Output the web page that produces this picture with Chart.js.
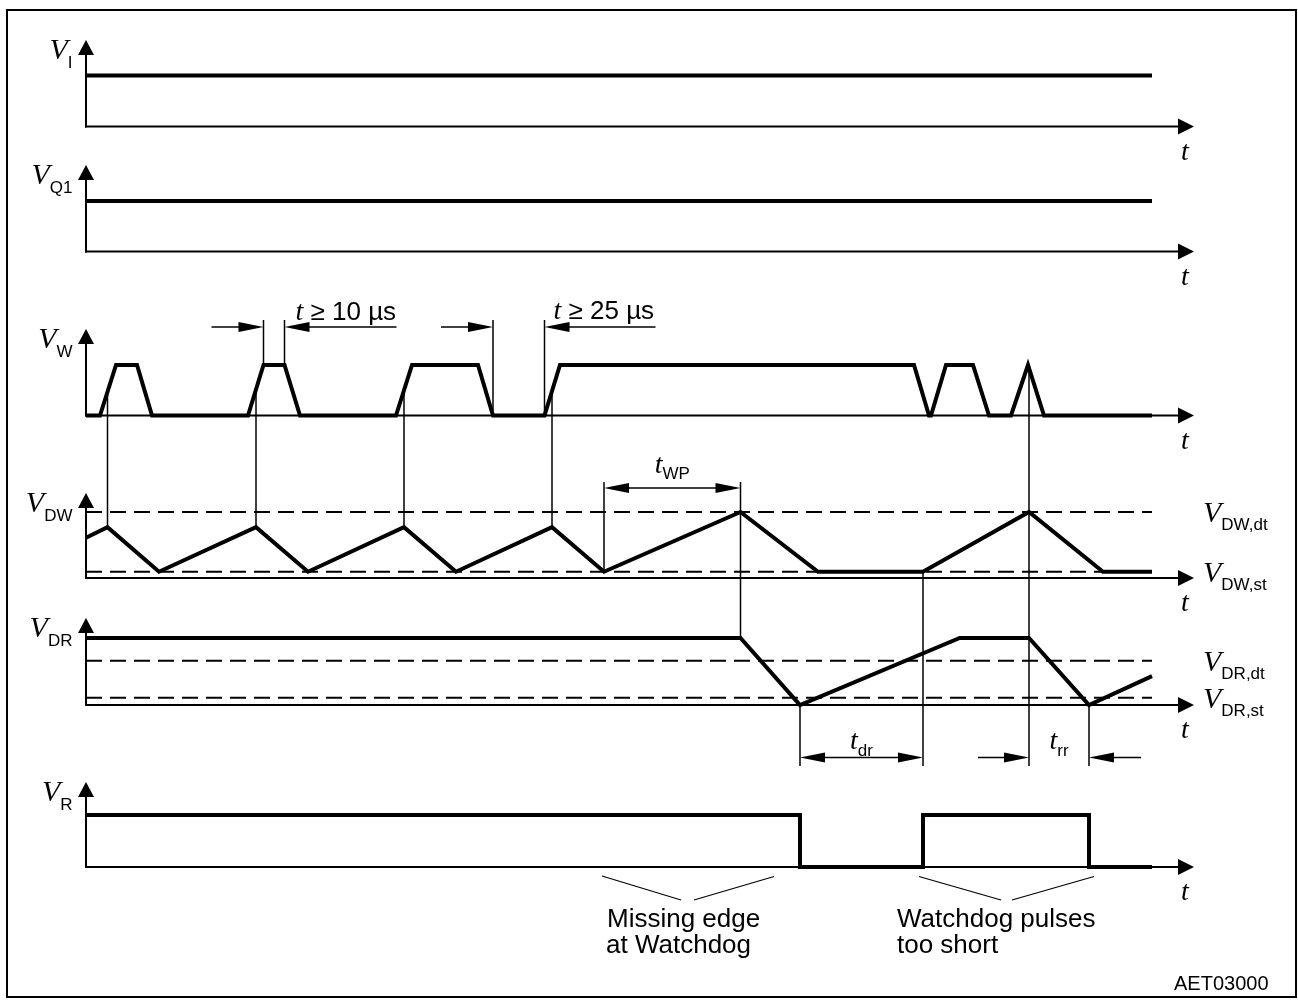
<!DOCTYPE html>
<html>
<head>
<meta charset="utf-8">
<script src="https://cdn.jsdelivr.net/npm/chart.js@4.4.1/dist/chart.umd.min.js"></script>
<style>
  html, body { margin: 0; padding: 0; background: #fff; }
  #wrap { width: 1298px; height: 1005px; }
</style>
</head>
<body>
<div id="wrap"><canvas id="c" width="1298" height="1005"></canvas></div>
<script>
// ================= DATA (time in arbitrary units from the time origin, levels normalised per trace) =================
const tMax = 1066;      // end of the traces
const tAxis = 1108;     // end of the time axes (arrow tip)

const VI_t  = [0, 1066];
const VI_v  = [1, 1];
const VQ1_t = [0, 1066];
const VQ1_v = [1, 1];
const VW_t  = [0, 14, 30, 51, 66, 162, 177.5, 198.5, 214, 310, 326, 392, 407, 458.5, 474, 828, 843, 845, 860, 887, 903, 925, 942, 958, 1066];
const VW_v  = [0, 0, 1, 1, 0, 0, 1, 1, 0, 0, 1, 1, 0, 0, 1, 1, 0, 0, 1, 1, 0, 0, 1, 0, 0];
const VDW_t = [0, 21.5, 73, 170, 222, 318, 370, 466, 518, 654.5, 732, 837, 943, 1017, 1066];
const VDW_v = [0.61, 0.77, 0.095, 0.77, 0.095, 0.77, 0.095, 0.77, 0.095, 1, 0.095, 0.095, 1, 0.095, 0.095];
const VDR_t = [0, 654.5, 714, 873.7, 943, 1003, 1066];
const VDR_v = [1, 1, 0, 1, 1, 0, 0.43];
const VR_t  = [0, 714, 714, 837, 837, 1003, 1003, 1066];
const VR_v  = [1, 1, 0, 0, 1, 1, 0, 0];

// threshold levels
const VDW_dt = 1.0, VDW_st = 0.095;
const VDR_dt = 0.66, VDR_st = 0.11;

// timing marks
const wdTrig = [21.5, 170, 318, 466];   // watchdog rising edges -> V_DW peaks
const tW10 = [177.5, 198.5];            // t >= 10 µs
const tW25 = [407, 458.5];              // t >= 25 µs
const tWP  = [518, 654.5];              // t_WP
const tDR  = [714, 837];                // t_dr
const tRR  = [943, 1003];               // t_rr

// texts
const leftLabels  = { I: 'I', Q1: 'Q1', W: 'W', DW: 'DW', DR: 'DR', R: 'R' };
const rightLabels = [['DW', VDW_dt, 'DW,dt'], ['DW', VDW_st, 'DW,st'], ['DR', VDR_dt, 'DR,dt'], ['DR', VDR_st, 'DR,st']];
const noteMissing = ['Missing edge', 'at Watchdog'];
const noteShort   = ['Watchdog pulses', 'too short'];
const figId = 'AET03000';

// ================= LAYOUT (pixels) =================
const L = {
  W: 1298, H: 1005, x0: 86,
  panels: {
    I:  { base: 126.5, unit: 51,   tip: 40  },
    Q1: { base: 251.5, unit: 50.5, tip: 165 },
    W:  { base: 415.5, unit: 50.5, tip: 329 },
    DW: { base: 578,   unit: 66,   tip: 493 },
    DR: { base: 705,   unit: 67,   tip: 618 },
    R:  { base: 867,   unit: 52,   tip: 782 }
  }
};
const SERIF = 'italic 30px "Liberation Serif", "DejaVu Serif", serif';
const TFONT = 'italic 28px "Liberation Serif", "DejaVu Serif", serif';
const SUB   = '17px "Liberation Sans", Arial, sans-serif';
const SANS  = '26px "Liberation Sans", Arial, sans-serif';
const SMALL = '20px "Liberation Sans", Arial, sans-serif';

// ================= CHART =================
const pts = (t, v) => t.map((x, i) => ({ x: x, y: v[i] }));
const sig = (label, t, v, k) => ({
  label, data: pts(t, v), yAxisID: 'y' + k,
  borderColor: '#000', borderWidth: 4, pointRadius: 0, fill: false, tension: 0,
  borderJoinStyle: 'miter', borderCapStyle: 'butt'
});
const dash = (label, lvl, k) => ({
  label, data: pts([0, tMax], [lvl, lvl]), yAxisID: 'y' + k,
  borderColor: '#000', borderWidth: 2, borderDash: [16, 8], pointRadius: 0, fill: false
});

const scales = { x: { type: 'linear', display: false, min: -L.x0, max: L.W - L.x0 } };
for (const k in L.panels) {
  const p = L.panels[k];
  const min = -(L.H - p.base) / p.unit;
  scales['y' + k] = { type: 'linear', display: false, min: min, max: min + L.H / p.unit };
}

function line(ctx, x1, y1, x2, y2, w) {
  ctx.lineWidth = w; ctx.beginPath(); ctx.moveTo(x1, y1); ctx.lineTo(x2, y2); ctx.stroke();
}
function head(ctx, x, y, dir, len, half) {
  ctx.beginPath();
  if (dir === 'up')    { ctx.moveTo(x, y); ctx.lineTo(x - half, y + len); ctx.lineTo(x + half, y + len); }
  if (dir === 'right') { ctx.moveTo(x, y); ctx.lineTo(x - len, y - half); ctx.lineTo(x - len, y + half); }
  if (dir === 'left')  { ctx.moveTo(x, y); ctx.lineTo(x + len, y - half); ctx.lineTo(x + len, y + half); }
  ctx.closePath(); ctx.fill();
}
// V with subscript; x is the left edge (align 'left') or right edge (align 'right')
function vLabel(ctx, main, sub, x, base, align, mainFont, subDy) {
  ctx.textAlign = 'left'; ctx.textBaseline = 'alphabetic';
  ctx.font = mainFont; const wm = ctx.measureText(main).width;
  ctx.font = SUB; const ws = ctx.measureText(sub).width;
  const x0 = align === 'right' ? x - ws - wm : x;
  ctx.font = mainFont; ctx.fillText(main, x0, base);
  ctx.font = SUB; ctx.fillText(sub, x0 + wm, base + subDy);
  return x0 + wm + ws;
}

const diagram = {
  id: 'diagram',
  afterDatasetsDraw(chart) {
    const ctx = chart.ctx;
    const X = t => chart.scales.x.getPixelForValue(t);
    const Y = (k, v) => chart.scales['y' + k].getPixelForValue(v);
    ctx.save();
    ctx.strokeStyle = '#000'; ctx.fillStyle = '#000'; ctx.lineCap = 'butt';

    // frame
    ctx.lineWidth = 2; ctx.strokeRect(7, 10, 1289, 987);

    // axes, arrows, names
    const xt = X(tAxis);
    for (const k in L.panels) {
      const p = L.panels[k], x0 = X(0), y0 = Y(k, 0);
      line(ctx, x0, y0 + 1, x0, p.tip + 10, 2);
      line(ctx, x0 - 1, y0, xt - 10, y0, 2);
      head(ctx, x0, p.tip, 'up', 15, 8);
      head(ctx, xt, y0, 'right', 16, 8);
      ctx.font = TFONT; ctx.textAlign = 'left'; ctx.textBaseline = 'alphabetic';
      ctx.fillText('t', xt - 13, y0 + 33);
      vLabel(ctx, 'V', leftLabels[k], 72.5, p.tip + 19, 'right', SERIF, 8.5);
    }
    // threshold names on the right
    for (const [k, lvl, s] of rightLabels) {
      vLabel(ctx, 'V', s, 1203, Y(k, lvl) + 10, 'left', SERIF, 8);
    }

    // connectors
    for (const t of wdTrig) line(ctx, X(t), Y('W', 0.5), X(t), Y('DW', 0.77), 1.5);
    const top10 = 320, dimW = 327;
    for (const t of tW10) line(ctx, X(t), Y('W', 1), X(t), top10, 1.5);
    for (const t of tW25) line(ctx, X(t), Y('W', 0), X(t), top10, 1.5);
    const topWP = 482, dimWP = 488;
    line(ctx, X(tWP[0]), Y('DW', VDW_st), X(tWP[0]), topWP, 1.5);
    line(ctx, X(tWP[1]), topWP, X(tWP[1]), Y('DR', 1), 1.5);
    const botR = 766, dimR = 757.5;
    line(ctx, X(tDR[0]), Y('DR', 0), X(tDR[0]), botR, 1.5);
    line(ctx, X(tDR[1]), Y('DW', VDW_st), X(tDR[1]), botR, 1.5);
    line(ctx, X(tRR[0]), Y('W', 1), X(tRR[0]), botR, 1.5);
    line(ctx, X(tRR[1]), Y('DR', 0), X(tRR[1]), botR, 1.5);

    // dimension arrows
    const inward = (a, b, y, extL, extR) => {
      line(ctx, X(a) - extL, y, X(a) - 20, y, 1.5); head(ctx, X(a), y, 'right', 25, 5);
      line(ctx, X(b) + 20, y, X(b) + extR, y, 1.5); head(ctx, X(b), y, 'left', 25, 5);
    };
    const outward = (a, b, y) => {
      line(ctx, X(a) + 20, y, X(b) - 20, y, 1.5);
      head(ctx, X(a), y, 'left', 25, 5); head(ctx, X(b), y, 'right', 25, 5);
    };
    inward(tW10[0], tW10[1], dimW, 52, 112);
    inward(tW25[0], tW25[1], dimW, 52, 111);
    outward(tWP[0], tWP[1], dimWP);
    outward(tDR[0], tDR[1], dimR);
    inward(tRR[0], tRR[1], dimR, 51, 52);

    // dimension texts
    const tText = (x, base, rest) => {
      ctx.textAlign = 'left'; ctx.textBaseline = 'alphabetic';
      ctx.font = TFONT; ctx.fillText('t', x, base);
      const w = ctx.measureText('t').width;
      ctx.font = SANS; ctx.fillText(rest, x + w, base);
    };
    tText(X(tW10[1]) + 11, 320, ' \u2265 10 \u00b5s');
    tText(X(tW25[1]) + 9, 319, ' \u2265 25 \u00b5s');
    const centred = (a, b, base, sub, dy) => {
      ctx.font = TFONT; const wt = ctx.measureText('t').width;
      ctx.font = SUB; const ws = ctx.measureText(sub).width;
      const xc = (X(a) + X(b)) / 2;
      vLabel(ctx, 't', sub, xc - (wt + ws) / 2, base, 'left', TFONT, dy);
    };
    centred(tWP[0], tWP[1], 473, 'WP', 5.5);
    centred(tDR[0], tDR[1], 749, 'dr', 7);
    centred(tRR[0], tRR[1], 749, 'rr', 7);

    // notes
    line(ctx, 602, 876, 681, 900, 1.2); line(ctx, 694, 900, 774, 876.5, 1.2);
    line(ctx, 919, 876.5, 1001, 900, 1.2); line(ctx, 1012, 900, 1094, 876.5, 1.2);
    ctx.font = SANS; ctx.textAlign = 'left'; ctx.textBaseline = 'alphabetic';
    ctx.fillText(noteMissing[0], 607, 927); ctx.fillText(noteMissing[1], 606, 953);
    ctx.fillText(noteShort[0], 897, 927);   ctx.fillText(noteShort[1], 897, 953);
    ctx.font = SMALL; ctx.fillText(figId, 1174, 990);
    ctx.restore();
  }
};

new Chart(document.getElementById('c'), {
  type: 'line',
  data: {
    datasets: [
      sig('V_I', VI_t, VI_v, 'I'),
      sig('V_Q1', VQ1_t, VQ1_v, 'Q1'),
      sig('V_W', VW_t, VW_v, 'W'),
      sig('V_DW', VDW_t, VDW_v, 'DW'),
      sig('V_DR', VDR_t, VDR_v, 'DR'),
      sig('V_R', VR_t, VR_v, 'R'),
      dash('V_DW,dt', VDW_dt, 'DW'),
      dash('V_DW,st', VDW_st, 'DW'),
      dash('V_DR,dt', VDR_dt, 'DR'),
      dash('V_DR,st', VDR_st, 'DR')
    ]
  },
  options: {
    responsive: false, animation: false, devicePixelRatio: 1,
    events: [],
    layout: { padding: 0 },
    plugins: { legend: { display: false }, tooltip: { enabled: false } },
    scales: scales
  },
  plugins: [diagram]
});
</script>
</body>
</html>
